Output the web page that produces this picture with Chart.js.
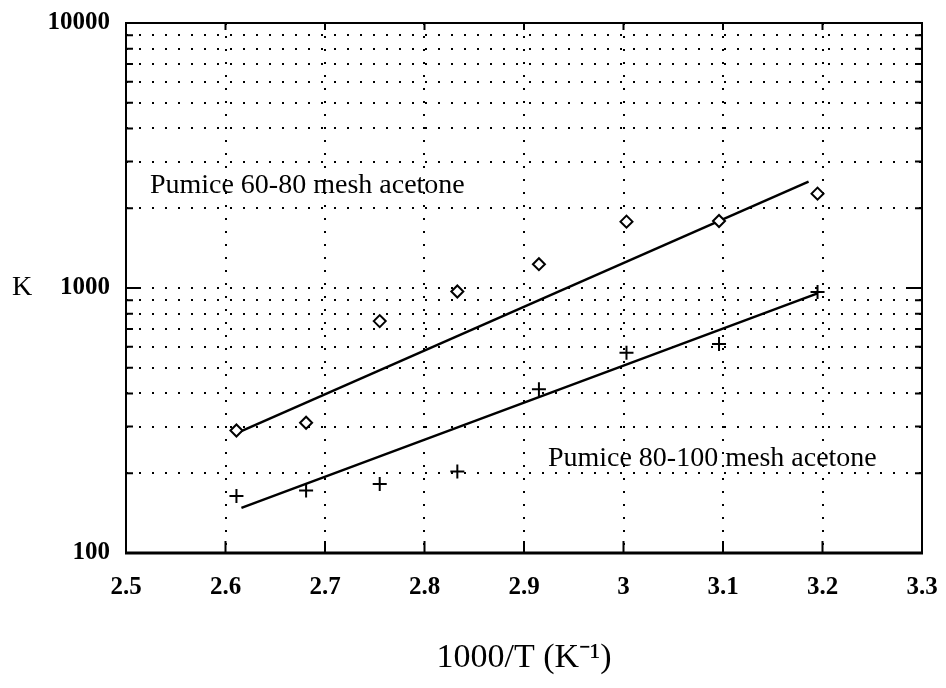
<!DOCTYPE html>
<html>
<head>
<meta charset="utf-8">
<script src="https://cdn.jsdelivr.net/npm/chart.js@4.4.0/dist/chart.umd.min.js"></script>
<style>
  body { margin: 0; background: #fff; }
  #wrap { width: 946px; height: 688px; }
</style>
</head>
<body>
<div id="wrap"><canvas id="chart" width="946" height="688"></canvas></div>
<script>
// 1000/T for the measured temperatures
const xValues = [2.611, 2.681, 2.755, 2.833, 2.915, 3.003, 3.096, 3.195];
const kMesh6080 = [290, 310, 750, 970, 1230, 1780, 1790, 2270];
const kMesh80100 = [164, 172, 182, 203, 415, 570, 615, 965];

// fitted lines (end points)
const fitX6080 = [2.613, 3.186];
const fitK6080 = [285, 2520];
const fitX80100 = [2.616, 3.195];
const fitK80100 = [148, 955];

const xTicks = [2.5, 2.6, 2.7, 2.8, 2.9, 3.0, 3.1, 3.2, 3.3];
const yGrid = [100, 200, 300, 400, 500, 600, 700, 800, 900,
  1000, 2000, 3000, 4000, 5000, 6000, 7000, 8000, 9000, 10000];
const yLabels = [100, 1000, 10000];

const notes = [
  { text: "Pumice 60-80 mesh acetone", x: 2.524, y: 2430 },
  { text: "Pumice 80-100 mesh acetone", x: 2.924, y: 228 }
];

const toPoints = (xs, ys) => xs.map((x, i) => ({ x: x, y: ys[i] }));

// keep the plot frame where the original has it
const noOverhang = s => { s.paddingTop = 0; s.paddingBottom = 0; s.paddingLeft = 0; s.paddingRight = 0; };

const decor = {
  id: "decor",
  afterDraw(chart) {
    const { ctx, chartArea: a, scales } = chart;
    const x = scales.x, y = scales.y;
    ctx.save();
    ctx.strokeStyle = "#000";
    ctx.lineWidth = 2;
    ctx.strokeRect(a.left, a.top, a.right - a.left, a.bottom - a.top);
    ctx.lineWidth = 3;
    ctx.beginPath();
    ctx.moveTo(a.left - 1, a.bottom);
    ctx.lineTo(a.right + 1, a.bottom);
    ctx.stroke();

    // small inward ticks on the frame
    ctx.lineWidth = 2;
    ctx.beginPath();
    yGrid.forEach(v => {
      const py = y.getPixelForValue(v);
      const len = yLabels.includes(v) ? 14 : 7;
      ctx.moveTo(a.left, py); ctx.lineTo(a.left + len, py);
      ctx.moveTo(a.right, py); ctx.lineTo(a.right - len, py);
    });
    xTicks.forEach(v => {
      const px = x.getPixelForValue(v);
      ctx.moveTo(px, a.bottom); ctx.lineTo(px, a.bottom - 12);
      ctx.moveTo(px, a.top); ctx.lineTo(px, a.top + 7);
    });
    ctx.stroke();

    ctx.fillStyle = "#000";
    ctx.textBaseline = "middle";
    ctx.font = "28px 'Liberation Serif'";
    ctx.textAlign = "left";
    notes.forEach(n => {
      ctx.fillText(n.text, x.getPixelForValue(n.x), y.getPixelForValue(n.y));
    });
    ctx.textAlign = "center";
    ctx.fillText("K", 22, y.getPixelForValue(1000));
    ctx.restore();
  }
};

new Chart(document.getElementById("chart"), {
  type: "scatter",
  data: {
    datasets: [
      {
        label: "Pumice 60-80 mesh acetone",
        data: toPoints(xValues, kMesh6080),
        pointStyle: "rectRot",
        pointRadius: 6,
        borderColor: "#000",
        backgroundColor: "#fff",
        borderWidth: 2
      },
      {
        label: "Pumice 80-100 mesh acetone",
        data: toPoints(xValues, kMesh80100),
        pointStyle: "cross",
        pointRadius: 7,
        borderColor: "#000",
        borderWidth: 2
      },
      {
        label: "fit 60-80",
        data: toPoints(fitX6080, fitK6080),
        showLine: true,
        pointRadius: 0,
        borderColor: "#000",
        borderWidth: 2.5
      },
      {
        label: "fit 80-100",
        data: toPoints(fitX80100, fitK80100),
        showLine: true,
        pointRadius: 0,
        borderColor: "#000",
        borderWidth: 2.5
      }
    ]
  },
  options: {
    responsive: false,
    animation: false,
    layout: { padding: { left: 0, right: 24, top: 23, bottom: 0 } },
    plugins: {
      legend: { display: false },
      tooltip: { enabled: false }
    },
    scales: {
      x: {
        type: "linear",
        min: 2.5,
        max: 3.3,
        afterBuildTicks: s => { s.ticks = xTicks.map(v => ({ value: v })); },
        afterFit: s => { s.height = 135; noOverhang(s); },
        ticks: {
          color: "#000",
          padding: 20,
          autoSkip: false,
          maxRotation: 0,
          font: { family: "Liberation Serif", weight: "bold", size: 25 },
          callback: v => String(Math.round(v * 10) / 10)
        },
        grid: { color: "#000", lineWidth: 2, drawTicks: false },
        border: { display: false, dash: [2, 11] },
        title: {
          display: true,
          text: "1000/T (K\u207B\u00B9)",
          color: "#000",
          font: { family: "Liberation Serif", size: 34 },
          padding: { top: 0, bottom: 10 }
        }
      },
      y: {
        type: "logarithmic",
        min: 100,
        max: 10000,
        afterBuildTicks: s => { s.ticks = yGrid.map(v => ({ value: v })); },
        afterFit: s => { s.width = 126; noOverhang(s); },
        ticks: {
          color: "#000",
          padding: 16,
          autoSkip: false,
          font: { family: "Liberation Serif", weight: "bold", size: 25 },
          callback: v => yLabels.includes(v) ? String(v) : ""
        },
        grid: { color: "#000", lineWidth: 2, drawTicks: false },
        border: { display: false, dash: [2, 11] }
      }
    }
  },
  plugins: [decor]
});
</script>
</body>
</html>
